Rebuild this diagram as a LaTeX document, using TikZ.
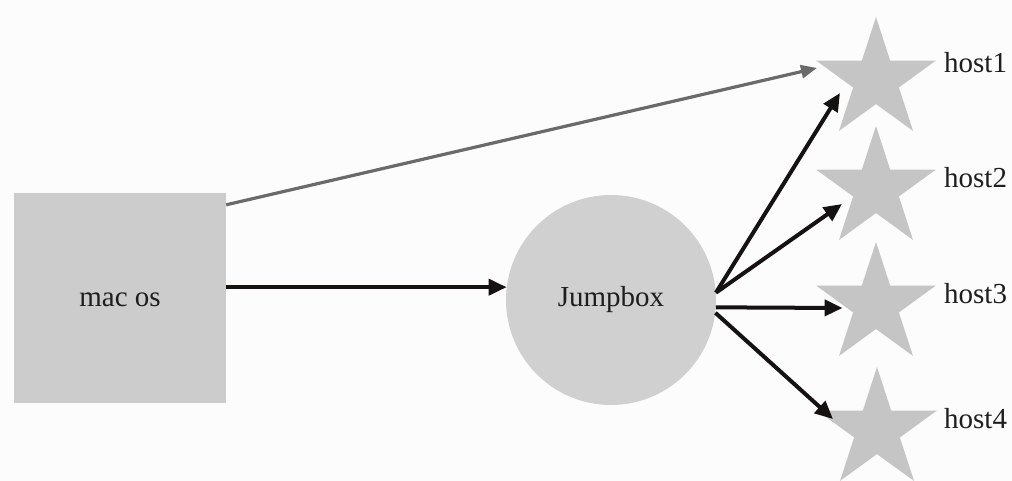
\documentclass[tikz,border=0pt]{standalone}
\usepackage{fontspec}
\setmainfont{Liberation Serif}
\usetikzlibrary{shapes.geometric,arrows.meta}
\definecolor{bgc}{HTML}{FCFCFC}
\definecolor{boxc}{HTML}{CCCCCC}
\definecolor{circc}{HTML}{D0D0D0}
\definecolor{starc}{HTML}{C5C5C5}
\definecolor{txtc}{HTML}{1E1E1E}
\definecolor{grayarr}{HTML}{6A6A6A}
\definecolor{blackarr}{HTML}{161212}
\begin{document}
\begin{tikzpicture}[x=1pt,y=-1pt,
  lbl/.style={font=\fontsize{29}{34}\selectfont, text=txtc},
  hoststar/.style={star, star points=5, star point ratio=2.618, fill=starc, draw=none, minimum size=126pt, inner sep=0pt},
  conn/.style={line width=4pt, draw=blackarr, -{Triangle[length=18pt,width=16pt]}},
  gconn/.style={line width=3.2pt, draw=grayarr, -{Triangle[length=16pt,width=13pt]}}]
\useasboundingbox (0,0) rectangle (1012,481);
\fill[bgc] (0,0) rectangle (1012,481);

\node[fill=boxc, minimum width=212pt, minimum height=210pt, inner sep=0pt, lbl, text height=17pt, text depth=0pt] (mac) at (120,298) {mac os};
\node[circle, fill=circc, minimum size=210pt, inner sep=0pt, lbl] (jump) at (611,300) {Jumpbox};

\node[hoststar] (s1) at (876,80) {};
\node[hoststar] (s2) at (876,189) {};
\node[hoststar] (s3) at (876,305) {};
\node[hoststar] (s4) at (877,430) {};

\node[lbl, anchor=base west, inner sep=0pt] (h1) at (944,73) {host1};
\node[lbl, anchor=base west, inner sep=0pt] (h2) at (944,188) {host2};
\node[lbl, anchor=base west, inner sep=0pt] (h3) at (944,303) {host3};
\node[lbl, anchor=base west, inner sep=0pt] (h4) at (944,428) {host4};

\coordinate (t1) at (817,68);
\coordinate (a1) at (840,93);
\coordinate (a2) at (842,204);
\coordinate (a3) at (844,308);
\coordinate (a4) at (833,419);

\draw[gconn] ([yshift=-12pt]mac.north east) -- (t1);
\draw[conn] (mac.east |- jump.173) -- (jump.173);
\draw[conn] (jump.4) -- (a1);
\draw[conn] (jump.4) -- (a2);
\draw[conn] (jump.-4) -- (a3 -| s3.west);
\draw[conn] (jump.-7) -- (a4);
\end{tikzpicture}
\end{document}
